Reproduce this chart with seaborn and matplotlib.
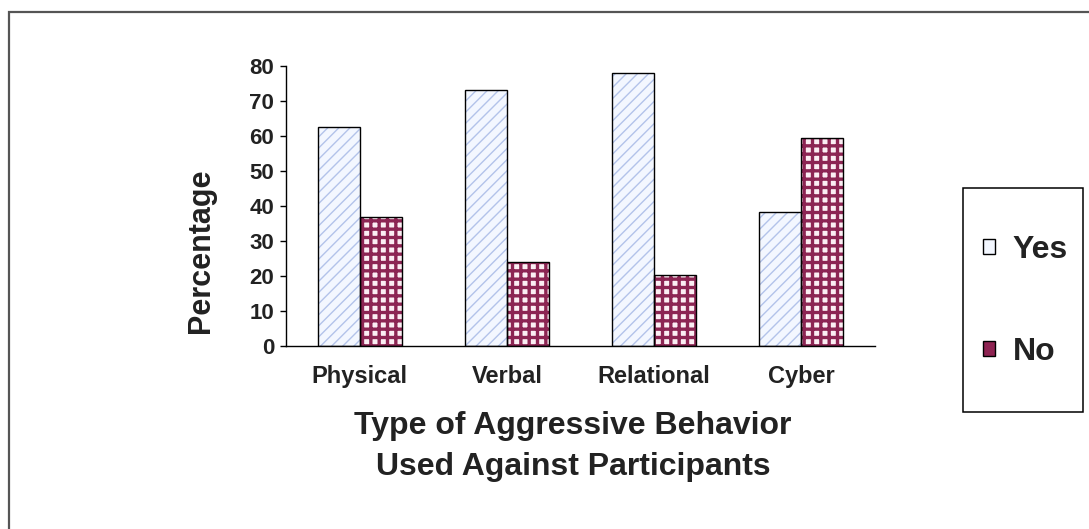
import matplotlib
matplotlib.use("Agg")
import matplotlib.pyplot as plt
from matplotlib.patches import Rectangle, Patch
import seaborn as sns
import pandas as pd

categories = ["Physical", "Verbal", "Relational", "Cyber"]
yes_values = [62.7, 73.1, 78.1, 38.4]
no_values = [36.8, 24.0, 20.3, 59.3]
series_names = ["Yes", "No"]
y_ticks = [0, 10, 20, 30, 40, 50, 60, 70, 80]

df = pd.DataFrame({
    "Type": categories * 2,
    "Response": [series_names[0]] * len(categories) + [series_names[1]] * len(categories),
    "Percentage": yes_values + no_values,
})

sns.set_theme(style="white")
plt.rcParams["font.family"] = ["Liberation Sans", "DejaVu Sans"]
plt.rcParams["font.weight"] = "bold"

YES_FACE = "#f3f7ff"
YES_HATCH = "#b3c3ea"
NO_FACE = "#fbeef3"
NO_HATCH = "#8c2553"

fig = plt.figure(figsize=(10.89, 5.29), dpi=100)
fig.patch.set_facecolor("white")
ax = fig.add_axes([286 / 1089, 1 - 346 / 529, 589 / 1089, 280 / 529])
ax.set_facecolor("white")

sns.barplot(data=df, x="Type", y="Percentage", hue="Response",
            hue_order=series_names, order=categories,
            palette={"Yes": YES_FACE, "No": NO_FACE},
            width=0.572, dodge=True, legend=False, ax=ax,
            edgecolor="black", linewidth=1.0, saturation=1)

styles = [("///", YES_HATCH, 1.0), ("++", NO_HATCH, 2.4)]
for container, (hatch, hcol, hlw) in zip(ax.containers, styles):
    for bar in container:
        bar.set_hatch(hatch)
        bar.set_edgecolor(hcol)
        bar.set_linewidth(0)
        if hasattr(bar, "set_hatch_linewidth"):
            bar.set_hatch_linewidth(hlw)
        outline = Rectangle(bar.get_xy(), bar.get_width(), bar.get_height(),
                            fill=False, edgecolor="black", linewidth=1.0,
                            zorder=bar.get_zorder() + 0.5)
        ax.add_patch(outline)

ax.set_ylim(0, 80)
ax.set_xlim(-0.5, 3.5)
ax.set_yticks(y_ticks)
ax.set_yticklabels([str(t) for t in y_ticks], fontsize=16, fontweight="bold")
ax.set_xticks(range(len(categories)))
ax.set_xticklabels(categories, fontsize=17, fontweight="bold")
ax.set_xticks([i - 0.5 for i in range(len(categories) + 1)], minor=True)
ax.tick_params(axis="x", which="major", length=0, pad=14)
ax.tick_params(axis="x", which="minor", length=4, width=1.0, direction="out", color="black")
ax.tick_params(axis="y", which="major", length=4, width=1.0, direction="out",
               pad=4.5, left=True, color="black")
for lab in ax.get_yticklabels() + ax.get_xticklabels():
    lab.set_color("#222222")

for s in ["top", "right"]:
    ax.spines[s].set_visible(False)
for s in ["left", "bottom"]:
    ax.spines[s].set_color("black")
    ax.spines[s].set_linewidth(1.0)

ax.set_ylabel("Percentage", fontsize=22, fontweight="bold", color="#222222")
ax.yaxis.set_label_coords(-0.118, 0.339)
ax.set_xlabel("Type of Aggressive Behavior\nUsed Against Participants",
              fontsize=23, fontweight="bold", color="#222222", linespacing=1.5)
ax.xaxis.set_label_coords(0.487, -0.232)

handles = [Patch(facecolor=YES_FACE, edgecolor="black", linewidth=1.0),
           Patch(facecolor="#8e2352", edgecolor="black", linewidth=1.0)]
fig.legend(handles, series_names, loc="center left",
           bbox_to_anchor=(983 / 1089, 1 - 301 / 529),
           frameon=False, borderpad=0, borderaxespad=0,
           handlelength=0.375, handleheight=0.375, handletextpad=0.56,
           labelspacing=2.26, prop={"size": 23, "weight": "bold"},
           labelcolor="#222222")

# legend box
fig.add_artist(Rectangle((963 / 1089, 1 - 412 / 529), 120 / 1089, 224 / 529,
                         transform=fig.transFigure, fill=False,
                         edgecolor="black", linewidth=1.1))
# outer frame of the figure
fig.add_artist(Rectangle((9 / 1089, -0.2), 1.2, (1 - 12 / 529) + 0.2,
                         transform=fig.transFigure, fill=False,
                         edgecolor="#555555", linewidth=1.6))

fig.savefig("out.png", dpi=100, facecolor="white")
